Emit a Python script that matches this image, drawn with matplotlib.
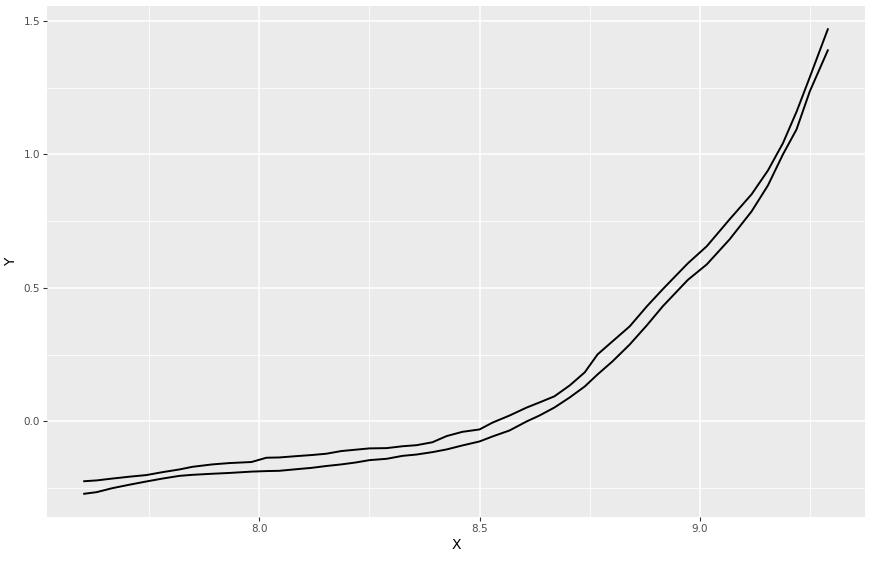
import matplotlib
matplotlib.use('Agg')
import matplotlib.pyplot as plt
from matplotlib.ticker import MultipleLocator

x = [7.602, 7.630, 7.666, 7.705, 7.743, 7.780, 7.818, 7.848, 7.893, 7.932,
     7.982, 8.016, 8.045, 8.084, 8.118, 8.152, 8.186, 8.218, 8.250, 8.289,
     8.325, 8.357, 8.393, 8.425, 8.461, 8.500, 8.530, 8.568, 8.607, 8.636,
     8.670, 8.705, 8.739, 8.768, 8.802, 8.841, 8.880, 8.916, 8.973, 9.016,
     9.068, 9.118, 9.155, 9.189, 9.220, 9.250, 9.291]
upper = [-0.224, -0.221, -0.214, -0.207, -0.201, -0.190, -0.180, -0.170, -0.161, -0.156,
         -0.152, -0.136, -0.135, -0.130, -0.126, -0.121, -0.111, -0.106, -0.101, -0.100,
         -0.093, -0.089, -0.078, -0.055, -0.039, -0.030, -0.004, 0.022, 0.052, 0.071,
         0.094, 0.135, 0.184, 0.251, 0.300, 0.356, 0.431, 0.495, 0.592, 0.656,
         0.757, 0.851, 0.940, 1.042, 1.160, 1.289, 1.469]
lower = [-0.271, -0.265, -0.250, -0.237, -0.225, -0.214, -0.204, -0.200, -0.196, -0.193,
         -0.188, -0.186, -0.185, -0.179, -0.174, -0.167, -0.161, -0.154, -0.145, -0.140,
         -0.129, -0.124, -0.115, -0.105, -0.090, -0.075, -0.056, -0.034, 0.000, 0.022,
         0.052, 0.090, 0.131, 0.176, 0.225, 0.288, 0.360, 0.431, 0.530, 0.588,
         0.682, 0.787, 0.884, 1.000, 1.094, 1.236, 1.390]
xticks = [8.0, 8.5, 9.0]
yticks = [0.0, 0.5, 1.0, 1.5]

fig = plt.figure(figsize=(8.72, 5.61), dpi=100)
ax = fig.add_axes([47/872, 1-517/561, (865-47)/872, (517-6)/561])
ax.set_facecolor('#EBEBEB')
for s in ax.spines.values():
    s.set_visible(False)

ax.plot(x, upper, color='black', linewidth=1.4)
ax.plot(x, lower, color='black', linewidth=1.4)

# ggplot-style 5% expansion
xr = max(x) - min(x)
allv = upper + lower
yr = max(allv) - min(allv)
ax.set_xlim(min(x) - 0.05*xr, max(x) + 0.05*xr)
ax.set_ylim(min(allv) - 0.05*yr, max(allv) + 0.05*yr)

ax.set_xticks(xticks)
ax.set_xticklabels(['%.1f' % v for v in xticks])
ax.set_yticks(yticks)
ax.set_yticklabels(['%.1f' % v for v in yticks])
ax.xaxis.set_minor_locator(MultipleLocator(0.25))
ax.yaxis.set_minor_locator(MultipleLocator(0.25))
ax.grid(which='major', color='white', linewidth=1.1)
ax.grid(which='minor', color='white', linewidth=0.55)
ax.set_axisbelow(True)
ax.tick_params(which='major', length=3, width=0.8, color='#333333',
               labelcolor='#4D4D4D', labelsize=7.5, pad=2)
ax.tick_params(which='minor', length=0)

ax.set_xlabel('X', fontsize=10, labelpad=3)
ax.set_ylabel('Y', fontsize=10, labelpad=4)

fig.savefig('out.png', dpi=100)
